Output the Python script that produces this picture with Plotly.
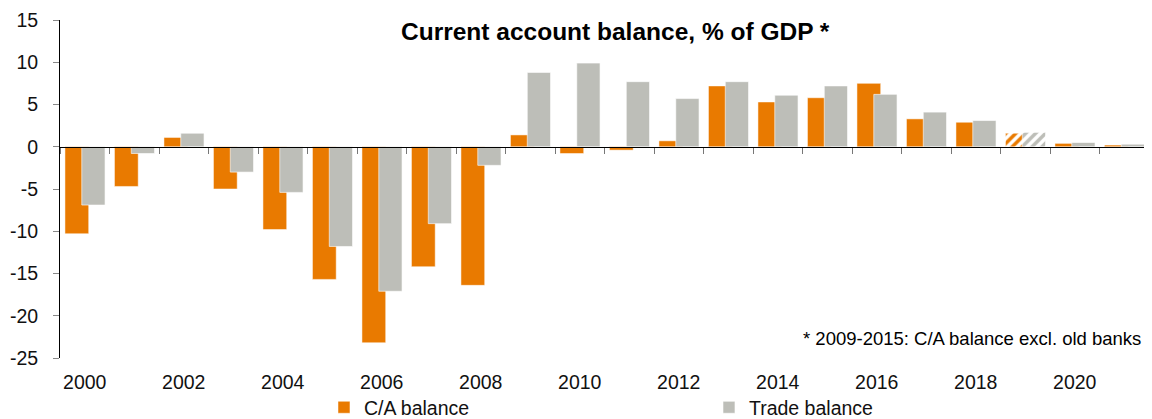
import plotly.graph_objects as go

years = list(range(2000, 2022))
ca_balance = [-10.3, -4.7, 1.1, -5.0, -9.8, -15.7, -23.2, -14.2, -16.4, 1.4, -0.8, -0.4,
              0.7, 7.2, 5.3, 5.8, 7.5, 3.3, 2.9, 1.6, 0.4, 0.2]
trade_balance = [-6.9, -0.8, 1.6, -3.0, -5.4, -11.8, -17.1, -9.1, -2.2, 8.8, 9.9, 7.7,
                 5.7, 7.7, 6.1, 7.2, 6.2, 4.1, 3.1, 1.7, 0.5, 0.3]
forecast_years = [2019]
label_years = list(range(2000, 2021, 2))
y_ticks = list(range(-25, 16, 5))

ORANGE = "#E97A00"
GREY = "#BDBEB8"
FONT = "Liberation Sans, Arial, sans-serif"

shapes_pattern = ["/" if y in forecast_years else "" for y in years]

fig = go.Figure()
fig.add_trace(go.Bar(
    x=years, y=ca_balance, name="C/A balance",
    width=0.48, offset=-0.40,
    marker=dict(color=ORANGE, line=dict(width=1, color="rgba(255,255,255,0.5)"),
                pattern=dict(shape=shapes_pattern, fillmode="replace", bgcolor="white",
                             size=7, solidity=0.5)),
))
fig.add_trace(go.Bar(
    x=years, y=trade_balance, name="Trade balance",
    width=0.47, offset=-0.06,
    marker=dict(color=GREY, line=dict(width=1, color="rgba(255,255,255,0.6)"),
                pattern=dict(shape=shapes_pattern, fillmode="replace", bgcolor="white",
                             size=7, solidity=0.5)),
))
# helper trace so the zero-line category axis is drawn
fig.add_trace(go.Scatter(x=[years[0]], y=[0], xaxis="x2", mode="markers",
                         marker=dict(opacity=0), showlegend=False, hoverinfo="skip"))

boundaries = [y - 0.5 for y in years] + [years[-1] + 0.5]
xr = [years[0] - 0.5, years[-1] + 0.5]

fig.update_layout(
    width=1144, height=411,
    margin=dict(l=52, r=3, t=12, b=61, autoexpand=False),
    barmode="overlay",
    plot_bgcolor="white", paper_bgcolor="white",
    font=dict(family=FONT, size=19.5, color="#111"),
    showlegend=True,
    legend=dict(orientation="h", x=0.2424, y=-0.089, xanchor="left", yanchor="top",
                entrywidth=340, entrywidthmode="pixels", font=dict(size=19.5),
                itemclick=False, traceorder="normal", bgcolor="rgba(0,0,0,0)"),
    xaxis=dict(range=xr, tickvals=label_years, ticktext=[str(v) for v in label_years],
               showline=False, showgrid=False, zeroline=False,
               ticks="outside", ticklen=7, tickcolor="rgba(0,0,0,0)"),
    xaxis2=dict(range=xr, overlaying="x", anchor="free", position=25/40, side="bottom",
                tickvals=boundaries, showticklabels=False, showline=True, linecolor="black",
                linewidth=1, ticks="outside", ticklen=6, tickcolor="#777", showgrid=False,
                zeroline=False),
    yaxis=dict(range=[-25, 15], tickvals=y_ticks, ticktext=[str(v) for v in y_ticks],
               showgrid=False, zeroline=False, automargin=False,
               showline=True, linecolor="black", linewidth=1,
               ticks="outside", ticklen=6, tickcolor="#888", ticklabelstandoff=11),
    annotations=[
        dict(text="<b>Current account balance, % of GDP *</b>", xref="paper", yref="paper",
             x=0.5101, y=0.967, xanchor="center", yanchor="middle", showarrow=False,
             font=dict(size=24.5, family=FONT, color="black")),
        dict(text="* 2009-2015: C/A balance excl. old banks", xref="paper", yref="paper",
             x=0.9945, y=0.059, xanchor="right", yanchor="middle", showarrow=False,
             font=dict(size=18.5, family=FONT, color="black")),
    ],
)

fig.write_html("out.html")
